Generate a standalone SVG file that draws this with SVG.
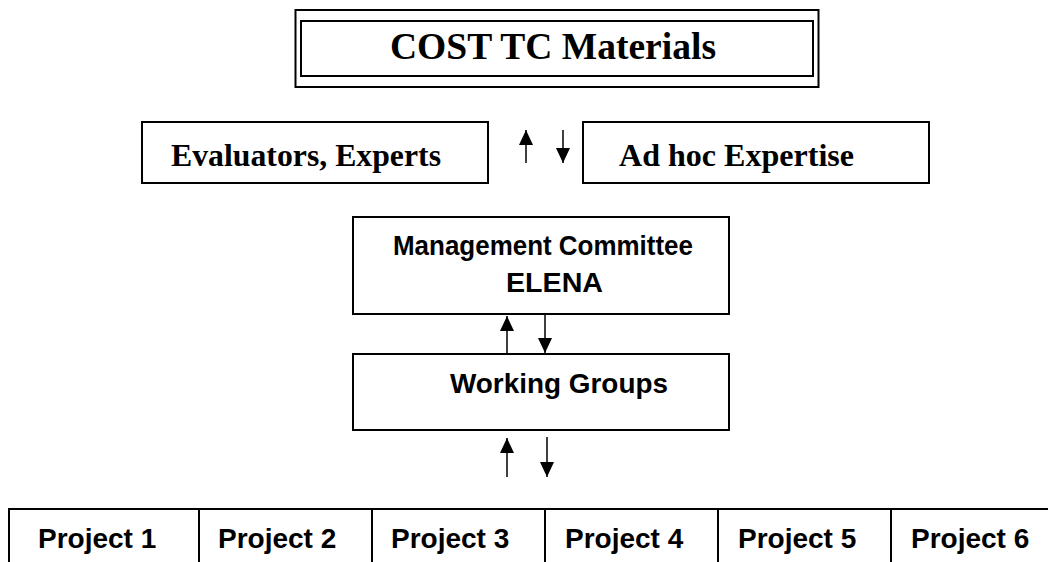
<svg xmlns="http://www.w3.org/2000/svg" width="1048" height="562" viewBox="0 0 1048 562">
  <style>
    .box { fill: #fff; stroke: #000; stroke-width: 2; }
    .serif { font-family: "Liberation Serif", "Times New Roman", serif; font-weight: bold; fill: #000; }
    .sans { font-family: "Liberation Sans", Arial, sans-serif; font-weight: bold; fill: #000; font-size: 28px; }
    .link { stroke: #000; stroke-width: 1.5; fill: none; }
    .cell { stroke: #000; stroke-width: 2; }
  </style>
  <defs>
    <marker id="head" viewBox="0 0 15 14" refX="15" refY="7" markerWidth="15" markerHeight="14" markerUnits="userSpaceOnUse" orient="auto">
      <path d="M0,0 L15,7 L0,14 Z" fill="#000"/>
    </marker>
  </defs>

  <rect width="1048" height="562" fill="#fff"/>

  <!-- top level: double-framed title box -->
  <g id="cost-tc">
    <rect class="box" x="295.5" y="10" width="523" height="77"/>
    <rect class="box" x="301" y="21" width="512" height="55" stroke-width="2.5"/>
    <text class="serif" x="390" y="59" font-size="38" textLength="326" lengthAdjust="spacingAndGlyphs">COST TC Materials</text>
  </g>

  <g id="evaluators">
    <rect class="box" x="142" y="122" width="346" height="61"/>
    <text class="serif" x="171" y="166" font-size="32" textLength="270" lengthAdjust="spacingAndGlyphs">Evaluators, Experts</text>
  </g>

  <g id="adhoc">
    <rect class="box" x="583" y="122" width="346" height="61"/>
    <text class="serif" x="619" y="166" font-size="32" textLength="235" lengthAdjust="spacingAndGlyphs">Ad hoc Expertise</text>
  </g>

  <g id="management">
    <rect class="box" x="353" y="217" width="376" height="97"/>
    <text class="sans" x="393" y="255" textLength="300" lengthAdjust="spacingAndGlyphs">Management Committee</text>
    <text class="sans" x="506" y="292" textLength="97" lengthAdjust="spacingAndGlyphs">ELENA</text>
  </g>

  <g id="working-groups">
    <rect class="box" x="353" y="354" width="376" height="76"/>
    <text class="sans" x="450" y="393" textLength="218" lengthAdjust="spacingAndGlyphs">Working Groups</text>
  </g>

  <!-- project row, runs past the right edge -->
  <g id="projects">
    <rect class="box" x="9" y="509" width="1060" height="70"/>
    <line class="cell" x1="199" y1="509" x2="199" y2="562"/>
    <line class="cell" x1="372" y1="509" x2="372" y2="562"/>
    <line class="cell" x1="545" y1="509" x2="545" y2="562"/>
    <line class="cell" x1="718" y1="509" x2="718" y2="562"/>
    <line class="cell" x1="891" y1="509" x2="891" y2="562"/>
    <text class="sans" x="38" y="548">Project 1</text>
    <text class="sans" x="218" y="548">Project 2</text>
    <text class="sans" x="391" y="548">Project 3</text>
    <text class="sans" x="565" y="548">Project 4</text>
    <text class="sans" x="738" y="548">Project 5</text>
    <text class="sans" x="911" y="548">Project 6</text>
  </g>

  <g id="connectors">
    <line class="link" x1="526" y1="163" x2="526" y2="130" marker-end="url(#head)"/>
    <line class="link" x1="563" y1="130" x2="563" y2="163" marker-end="url(#head)"/>
    <line class="link" x1="507" y1="354" x2="507" y2="316" marker-end="url(#head)"/>
    <line class="link" x1="545" y1="314" x2="545" y2="353" marker-end="url(#head)"/>
    <line class="link" x1="507" y1="477" x2="507" y2="438" marker-end="url(#head)"/>
    <line class="link" x1="547" y1="437" x2="547" y2="477" marker-end="url(#head)"/>
  </g>
</svg>
